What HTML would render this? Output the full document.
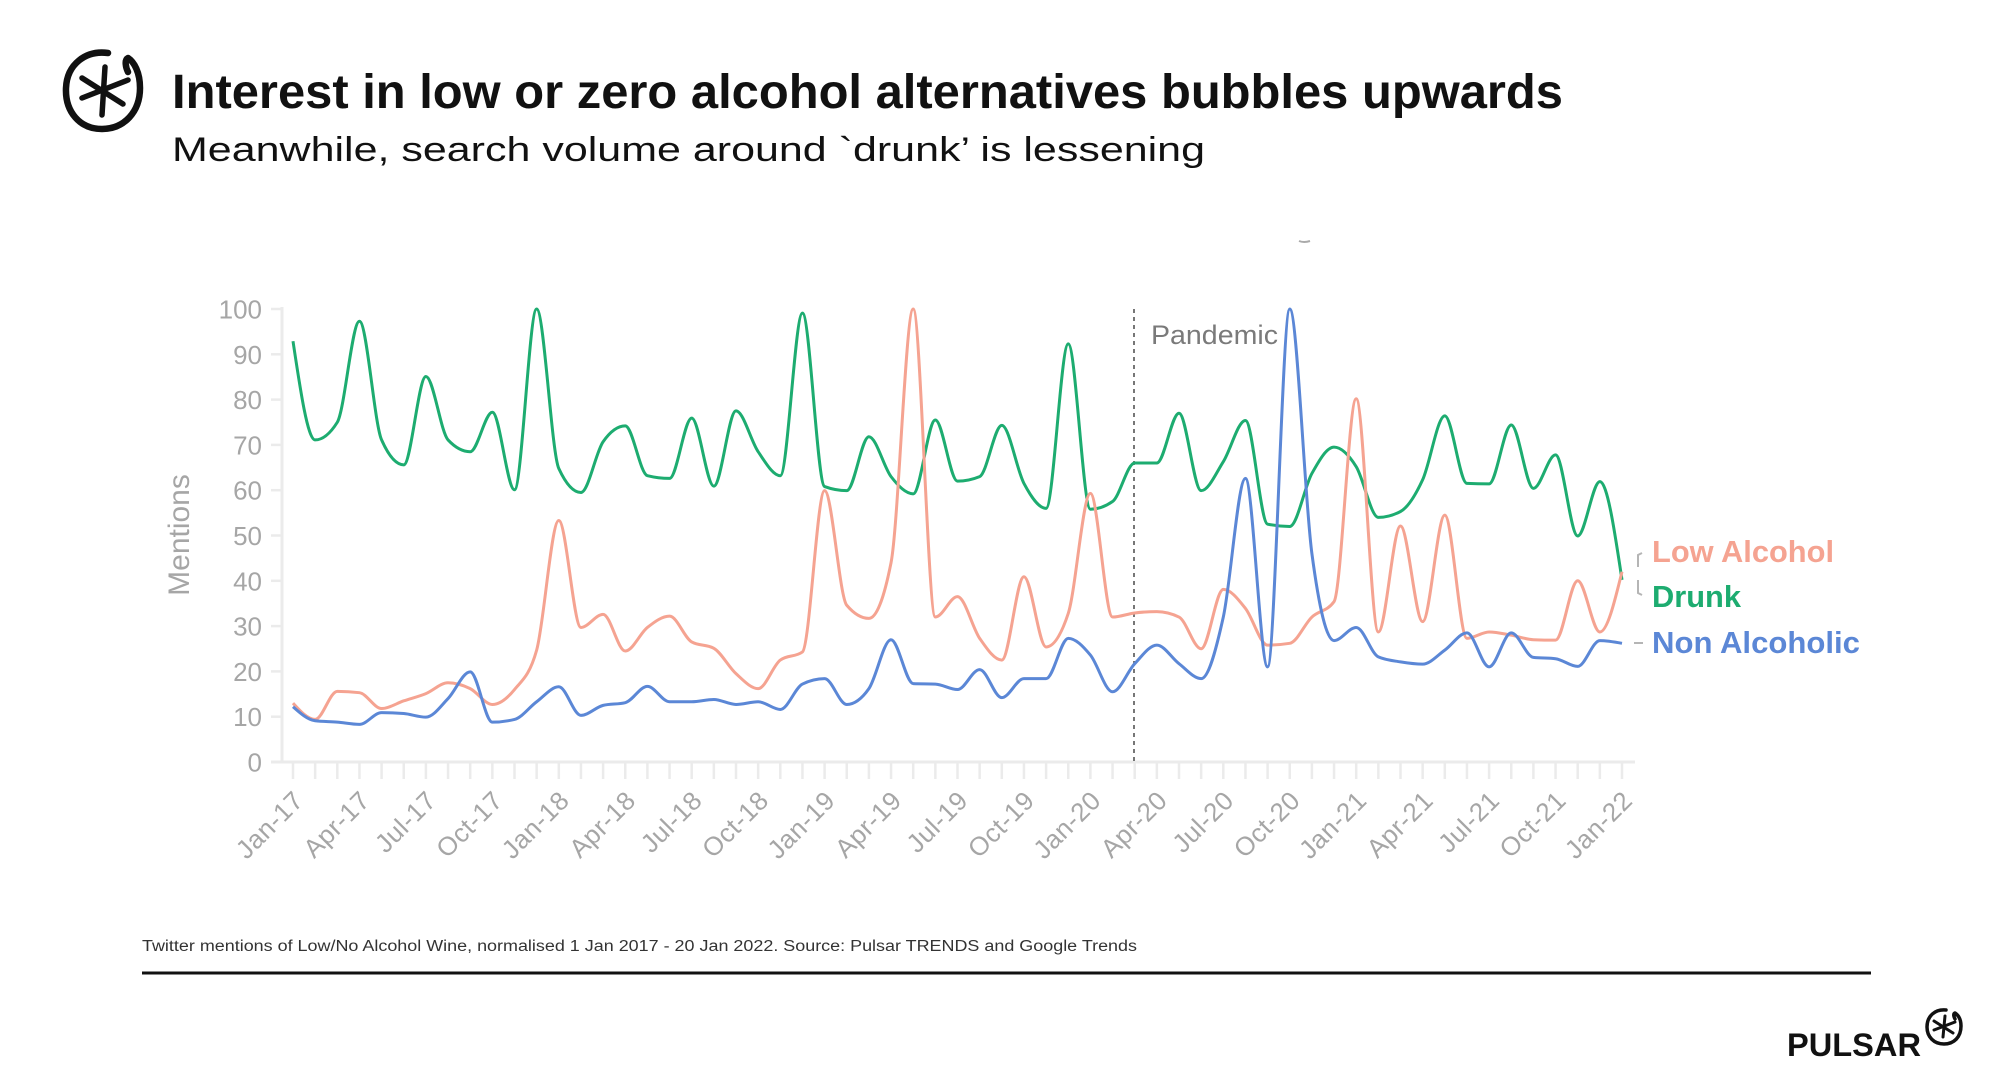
<!DOCTYPE html>
<html>
<head>
<meta charset="utf-8">
<style>
  html,body{margin:0;padding:0;background:#fff;}
  body{width:2000px;height:1086px;overflow:hidden;}
  svg{display:block;}
  text{font-family:"Liberation Sans", sans-serif;}
</style>
</head>
<body>
<svg id="chart" width="2000" height="1086" viewBox="0 0 2000 1086" xmlns="http://www.w3.org/2000/svg">
  <rect width="2000" height="1086" fill="#ffffff"/>

  <!-- Top-left logo -->
  <g fill="none" stroke="#111" stroke-linecap="round" stroke-linejoin="round">
    <path d="M108,53 C86,50 67,64 66,88 C65,112 80,129 102,129 C124,129 140,112 140,88 C140,72 134,62 128,58 C124,60 126,68 128,72" stroke-width="6.5"/>
    <line x1="105" y1="67" x2="102" y2="115" stroke-width="5.5"/>
    <line x1="82" y1="78" x2="123" y2="104" stroke-width="5.5"/>
    <line x1="82" y1="98" x2="128" y2="80" stroke-width="5.5"/>
  </g>

  <!-- Title & subtitle -->
  <text x="172" y="108" font-size="48" font-weight="bold" fill="#111" textLength="1391" lengthAdjust="spacingAndGlyphs">Interest in low or zero alcohol alternatives bubbles upwards</text>
  <text x="172" y="161" font-size="34" fill="#111" textLength="1033" lengthAdjust="spacingAndGlyphs">Meanwhile, search volume around `drunk’ is lessening</text>

  <!-- tiny mark -->
  <path d="M1299,241 Q1304,243 1310,241" stroke="#aaa" stroke-width="2" fill="none"/>

  <!-- Axes -->
  <g id="axes" stroke="#ebebeb" stroke-width="3" fill="none">
    <line x1="282" y1="307" x2="282" y2="763"/>
    <line x1="271" y1="762" x2="1635" y2="762"/>
  </g>
  <g id="yticks"></g>
  <g id="xticks"></g>
  <g id="xlabels"></g>

  <!-- Y axis title -->
  <text transform="translate(189,535) rotate(-90)" text-anchor="middle" font-size="30" fill="#a6a6a6">Mentions</text>

  <!-- Pandemic line -->
  <line x1="1134" y1="309" x2="1134" y2="762" stroke="#555" stroke-width="1.6" stroke-dasharray="4 4"/>
  <text x="1151" y="344" font-size="27" fill="#7a7a7a" textLength="127" lengthAdjust="spacingAndGlyphs">Pandemic</text>

  <!-- Series -->
  <path id="drunk" fill="none" stroke="#1dac70" stroke-width="3" stroke-linejoin="round"/>
  <path id="low" fill="none" stroke="#f5a391" stroke-width="3" stroke-linejoin="round"/>
  <path id="non" fill="none" stroke="#5b87d6" stroke-width="3" stroke-linejoin="round"/>

  <!-- Legend connectors -->
  <g stroke="#b5b5b5" stroke-width="2" fill="none">
    <path d="M1642,553 L1638,555 L1638,567"/>
    <path d="M1638,580 L1638,593 L1642,595"/>
    <path d="M1634,643 L1643,643"/>
  </g>
  <!-- Legend labels -->
  <text x="1652" y="562" font-size="31" font-weight="bold" fill="#f5a391" textLength="182" lengthAdjust="spacingAndGlyphs">Low Alcohol</text>
  <text x="1652" y="607" font-size="31" font-weight="bold" fill="#1dac70" textLength="89" lengthAdjust="spacingAndGlyphs">Drunk</text>
  <text x="1652" y="653" font-size="31" font-weight="bold" fill="#5b87d6" textLength="208" lengthAdjust="spacingAndGlyphs">Non Alcoholic</text>

  <!-- Footer -->
  <text x="142" y="951" font-size="15.5" fill="#333" textLength="995" lengthAdjust="spacingAndGlyphs">Twitter mentions of Low/No Alcohol Wine, normalised 1 Jan 2017 - 20 Jan 2022. Source: Pulsar TRENDS and Google Trends</text>
  <line x1="142" y1="973" x2="1871" y2="973" stroke="#111" stroke-width="3"/>

  <!-- Pulsar logo -->
  <text x="1787" y="1056" font-size="32" font-weight="bold" fill="#111" textLength="134" lengthAdjust="spacingAndGlyphs">PULSAR</text>
  <g fill="none" stroke="#111" stroke-linecap="round" stroke-linejoin="round">
    <path d="M1946,1010 C1935,1009 1927,1016 1927,1027 C1927,1037 1934,1044 1944,1044 C1954,1044 1961,1037 1961,1026 C1961,1019 1958,1015 1955,1013 C1953,1014 1954,1017 1955,1019" stroke-width="3.5"/>
    <line x1="1945" y1="1016" x2="1943" y2="1037" stroke-width="3"/>
    <line x1="1934" y1="1021" x2="1953" y2="1033" stroke-width="3"/>
    <line x1="1934" y1="1030" x2="1955" y2="1022" stroke-width="3"/>
  </g>
</svg>

<script>
(function(){
  var NS="http://www.w3.org/2000/svg";
  var X0=293, DX=22.15, Y0=762, SY=4.53;
  function X(i){return X0+DX*i;}
  function Y(v){return Y0-SY*v;}

  var drunk=[92.9,71.1,75,97.3,71.1,65.6,85.1,71.1,68.5,77.2,60.1,100,64.8,59.5,70.7,74.2,63.2,62.6,75.9,60.9,
    77.5,68.5,63.2,99.1,60.8,59.9,71.8,63,59.2,75.5,62,63,74.3,61.5,56,92.3,55.8,57.5,66,66,
    77,59.9,66.3,75.4,52.5,52,63.7,69.5,65.2,54,55.3,62.3,76.4,61.5,61.4,74.4,60.4,67.8,49.9,61.9,40.2];
  var low=[13.0,9.4,15.6,15.3,11.8,13.5,15.1,17.5,16.2,12.7,16.0,24.7,53.3,29.7,32.6,24.5,29.7,32.2,26.5,25.1,
    19.5,16.2,22.5,24.3,59.9,34.6,31.7,44,100,32,36.5,27.3,22.5,40.9,25.4,32.8,59.3,32,32.9,33.2,
    32,25,38.1,33.9,25.8,26.2,32,35.4,80.2,28.7,52.1,31,54.5,27.3,28.7,28,27,26.9,40,28.7,42];
  var non=[12.2,9.1,8.8,8.3,10.9,10.7,9.9,14,19.9,8.8,9.4,13.3,16.6,10.3,12.5,13.1,16.7,13.3,13.3,13.8,
    12.7,13.3,11.6,17.2,18.4,12.7,16.2,27,17.3,17.2,16,20.4,14.2,18.4,18.4,27.3,23.6,15.5,21.7,25.8,
    21.7,18.4,32,62.6,21,100,46,26.8,29.7,23.2,22.1,21.6,24.7,28.5,21,28.5,23.1,22.8,21.1,26.8,26.2];

  function sign(x){return x<0?-1:1;}
  function monotonePath(vals){
    var n=vals.length, xs=[], ys=[], i;
    for(i=0;i<n;i++){xs.push(X(i));ys.push(Y(vals[i]));}
    var t=new Array(n);
    for(i=1;i<n-1;i++){
      var h0=xs[i]-xs[i-1], h1=xs[i+1]-xs[i];
      var s0=(ys[i]-ys[i-1])/h0, s1=(ys[i+1]-ys[i])/h1;
      var p=(s0*h1+s1*h0)/(h0+h1);
      t[i]=(sign(s0)+sign(s1))*Math.min(Math.abs(s0),Math.abs(s1),0.5*Math.abs(p))||0;
    }
    var h=xs[1]-xs[0];
    t[0]=(3*(ys[1]-ys[0])/h - t[1])/2;
    h=xs[n-1]-xs[n-2];
    t[n-1]=(3*(ys[n-1]-ys[n-2])/h - t[n-2])/2;
    var d="M"+xs[0].toFixed(2)+","+ys[0].toFixed(2);
    for(i=0;i<n-1;i++){
      var dx=(xs[i+1]-xs[i])/3;
      d+="C"+(xs[i]+dx).toFixed(2)+","+(ys[i]+dx*t[i]).toFixed(2)+","+
        (xs[i+1]-dx).toFixed(2)+","+(ys[i+1]-dx*t[i+1]).toFixed(2)+","+
        xs[i+1].toFixed(2)+","+ys[i+1].toFixed(2);
    }
    return d;
  }
  document.getElementById("drunk").setAttribute("d",monotonePath(drunk));
  document.getElementById("low").setAttribute("d",monotonePath(low));
  document.getElementById("non").setAttribute("d",monotonePath(non));

  var yt=document.getElementById("yticks");
  for(var v=0;v<=100;v+=10){
    var y=Y(v);
    var l=document.createElementNS(NS,"line");
    l.setAttribute("x1",271);l.setAttribute("x2",282);
    l.setAttribute("y1",y);l.setAttribute("y2",y);
    l.setAttribute("stroke","#ebebeb");l.setAttribute("stroke-width","2.5");
    yt.appendChild(l);
    var tx=document.createElementNS(NS,"text");
    tx.setAttribute("x",262);tx.setAttribute("y",y+9.5);
    tx.setAttribute("text-anchor","end");tx.setAttribute("font-size","26");
    tx.setAttribute("fill","#a6a6a6");
    tx.textContent=String(v);
    yt.appendChild(tx);
  }
  var xt=document.getElementById("xticks");
  for(var i=0;i<=60;i++){
    var x=X(i);
    var l2=document.createElementNS(NS,"line");
    l2.setAttribute("x1",x);l2.setAttribute("x2",x);
    l2.setAttribute("y1",763);l2.setAttribute("y2",779);
    l2.setAttribute("stroke","#ebebeb");l2.setAttribute("stroke-width","2.5");
    xt.appendChild(l2);
  }
  var months=["Jan","Apr","Jul","Oct"];
  var xl=document.getElementById("xlabels");
  for(var k=0;k<=20;k++){
    var idx=k*3;
    var yr=17+Math.floor(idx/12);
    var lab=months[(idx%12)/3]+"-"+yr;
    var t2=document.createElementNS(NS,"text");
    t2.setAttribute("transform","translate("+(X(idx)+12)+",802) rotate(-45)");
    t2.setAttribute("text-anchor","end");
    t2.setAttribute("font-size","26");
    t2.setAttribute("letter-spacing","0.5");
    t2.setAttribute("fill","#a6a6a6");
    t2.textContent=lab;
    xl.appendChild(t2);
  }
})();
</script>
</body>
</html>
